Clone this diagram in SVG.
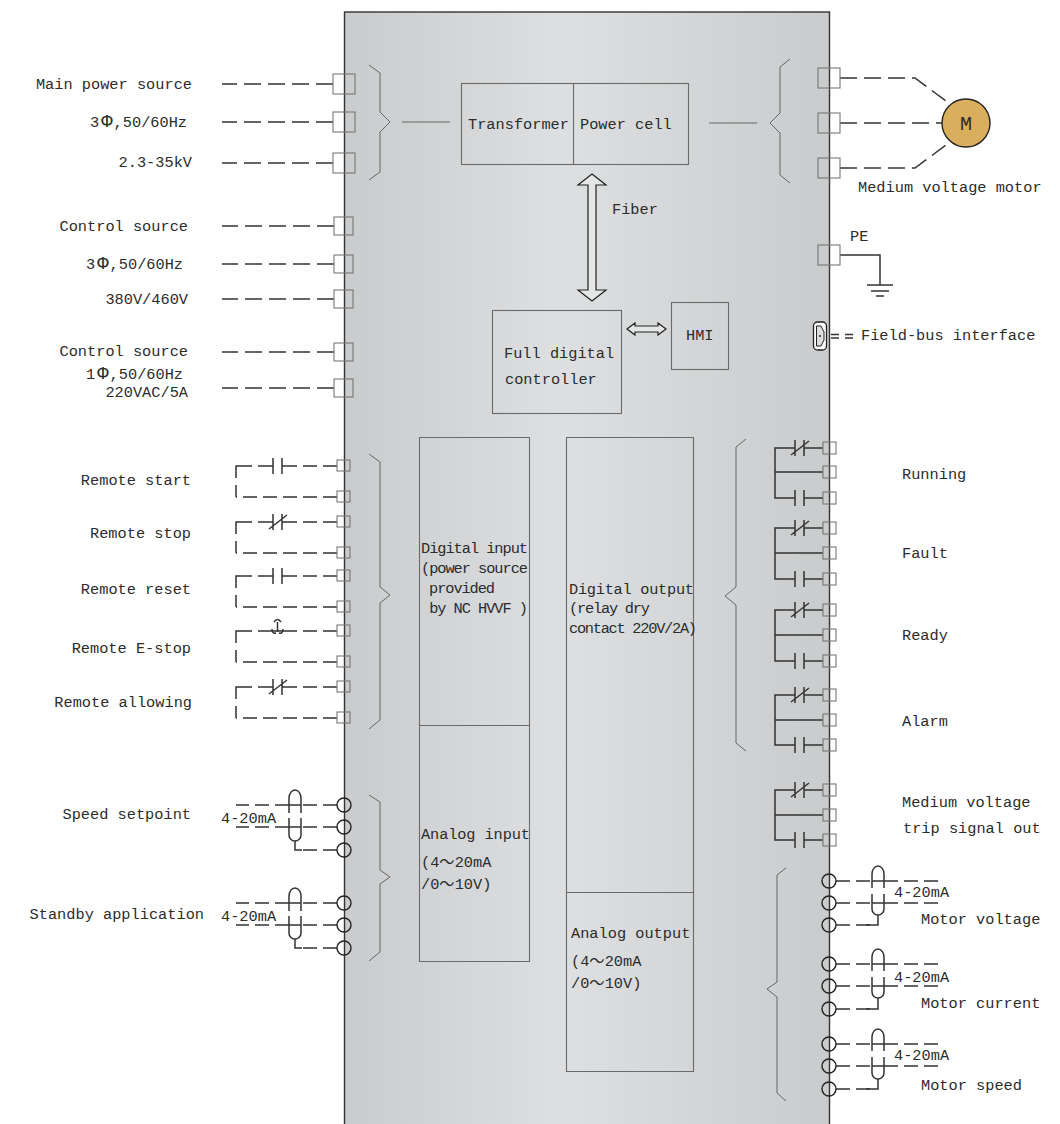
<svg xmlns="http://www.w3.org/2000/svg" width="1060" height="1124" viewBox="0 0 1060 1124">
<style>
text{font-family:"Liberation Mono","Noto Sans CJK SC","DejaVu Sans Mono",monospace;font-size:15.3px;fill:#2c2c2c}
.m{text-anchor:middle}.e{text-anchor:end}
.phi{font-size:19px}
.box{fill:none;stroke:#6a6a6a;stroke-width:1.1}
.term{fill:none;stroke:#777;stroke-width:1.1}
.brace{fill:none;stroke:#666;stroke-width:1}
.dash{fill:none;stroke:#333;stroke-width:1.5;stroke-dasharray:17 7}
.dash2{fill:none;stroke:#333;stroke-width:1.5;stroke-dasharray:14 6}
.wire{fill:none;stroke:#333;stroke-width:1.5}
.circ{fill:none;stroke:#222;stroke-width:1.4}
</style>
<defs>
<linearGradient id="panel" x1="0" x2="1" y1="0" y2="0">
<stop offset="0" stop-color="#cacbcc"/><stop offset="0.45" stop-color="#dddfe0"/><stop offset="1" stop-color="#c9cbcc"/>
</linearGradient>
<path id="no" class="wire" d="M-3 -8V8M6 -8V8"/>
<path id="nc" class="wire" d="M-3 -8V8M6 -8V8M-7 7L11 -7"/>
</defs>

<g id="cabinet"><rect x="344.5" y="12" width="485" height="1120" fill="url(#panel)" stroke="#333" stroke-width="1.4"/></g>

<g id="connectors">
<path class="dash" d="M333 84H222M333 122H222M333 163H222"/>
<path class="dash" d="M334 226H222M334 264H222M334 299H222M334 352H222M334 388H222"/>
<path class="dash" d="M840 78H915L950 104"/>
<path class="dash" d="M840 123H942"/>
<path class="dash" d="M840 168H915L950 142"/>
<path class="wire" d="M840 255H880V285M867 285H893M871 291H889M876 296H884"/>
<path class="wire" d="M831 334.5H839M845 334.5H853M831 338H839M845 338H853"/>
<path class="brace" d="M402 122H450M709 123H757"/>
<g id="remote-wiring">
<path class="dash2" d="M337 466H296M337 497H236M337 522H296M337 553H236M337 576H296M337 607H236M337 631H296M337 662H236M337 687H296M337 718H236"/>
<path class="wire" d="M282 466H296M273 466H258M252 466H236V478M236 485V497"/>
<path class="wire" d="M282 522H296M273 522H258M252 522H236V534M236 541V553"/>
<path class="wire" d="M282 576H296M273 576H258M252 576H236V588M236 595V607"/>
<path class="wire" d="M258 631H296M252 631H236V643M236 650V662"/>
<path class="wire" d="M282 687H296M273 687H258M252 687H236V699M236 706V718"/>
</g>
<g id="analog-in-wiring">
<path class="dash2" d="M337 805H301M289 805H236M337 827H301M289 827H236M337 850H300M337 903H301M289 903H236M337 925H301M289 925H236M337 948H300"/>
<path class="wire" d="M289 805H301M289 827H301M289 903H301M289 925H301M295 841V850H302M295 939V948H302"/>
</g>
<g id="analog-out-wiring">
<path class="dash2" d="M836 881H872M884 881H938M836 903H872M884 903H938M836 925H872M836 964H872M884 964H938M836 986H872M884 986H938M836 1009H872M836 1044H872M884 1044H938M836 1066H872M884 1066H938M836 1089H872"/>
<path class="wire" d="M872 881H884M872 903H884M872 964H884M872 986H884M872 1044H884M872 1066H884M878 915V925H866M878 998V1009H866M878 1079V1089H866"/>
</g>
<g id="relay-wiring">
<path class="wire" d="M823 448H804M795 448H775V498H795M804 498H823M775 472H823"/>
<path class="wire" d="M823 528H804M795 528H775V579H795M804 579H823M775 553H823"/>
<path class="wire" d="M823 610H804M795 610H775V661H795M804 661H823M775 635H823"/>
<path class="wire" d="M823 695H804M795 695H775V745H795M804 745H823M775 720H823"/>
<path class="wire" d="M823 790H804M795 790H775V840H795M804 840H823M775 815H823"/>
</g>
</g>

<g id="contacts">
<use href="#no" x="276" y="466"/>
<use href="#nc" x="276" y="522"/>
<use href="#no" x="276" y="576"/>
<use href="#nc" x="276" y="687"/>
<path class="wire" d="M277.5 622V632M274 622Q277.5 617 281 622M272 629Q272 634 276 633M283 629Q283 634 279 633"/>
<use href="#nc" x="798" y="448"/><use href="#no" x="798" y="498"/>
<use href="#nc" x="798" y="528"/><use href="#no" x="798" y="579"/>
<use href="#nc" x="798" y="610"/><use href="#no" x="798" y="661"/>
<use href="#nc" x="798" y="695"/><use href="#no" x="798" y="745"/>
<use href="#nc" x="798" y="790"/><use href="#no" x="798" y="840"/>
</g>

<g id="shields">
<path class="wire" d="M289 813V798A6 8 0 0 1 301 798V813M289 818V835A6 6 0 0 0 301 835V818"/>
<path class="wire" d="M289 911V896A6 8 0 0 1 301 896V911M289 916V933A6 6 0 0 0 301 933V916"/>
<path class="wire" d="M872 888V874A6 8 0 0 1 884 874V888M872 894V909A6 6 0 0 0 884 909V894"/>
<path class="wire" d="M872 971V957A6 8 0 0 1 884 957V971M872 977V992A6 6 0 0 0 884 992V977"/>
<path class="wire" d="M872 1051V1037A6 8 0 0 1 884 1037V1051M872 1057V1073A6 6 0 0 0 884 1073V1057"/>
</g>

<g id="braces">
<path class="brace" d="M369 65L380 73V112L390 122L380 132V172L369 180"/>
<path class="brace" d="M790 59L780 67V113L770 123L780 133V175L790 183"/>
<path class="brace" d="M369 454L380 462V587L390 595L380 603V720L369 729"/>
<path class="brace" d="M369 795L380 802V870L390 877L380 884V952L369 961"/>
<path class="brace" d="M746 439L736 447V587L725 596L736 605V743L746 751"/>
<path class="brace" d="M786 868L777 875V982L767 989L777 997V1093L786 1101"/>
</g>

<g id="terminals">
<rect class="term" x="333" y="74" width="22" height="20"/><rect class="term" x="333" y="112" width="22" height="20"/><rect class="term" x="333" y="153" width="22" height="20"/>
<rect class="term" x="334" y="217" width="19" height="18"/><rect class="term" x="334" y="255" width="19" height="18"/><rect class="term" x="334" y="290" width="19" height="18"/><rect class="term" x="334" y="343" width="19" height="18"/><rect class="term" x="334" y="379" width="19" height="18"/>
<rect class="term" x="818" y="68" width="22" height="20"/><rect class="term" x="818" y="113" width="22" height="20"/><rect class="term" x="818" y="158" width="22" height="20"/><rect class="term" x="818" y="245" width="22" height="20"/>
<g id="di-terminals">
<rect class="term" x="337" y="460" width="13" height="11"/><rect class="term" x="337" y="491" width="13" height="11"/><rect class="term" x="337" y="516" width="13" height="11"/><rect class="term" x="337" y="547" width="13" height="11"/><rect class="term" x="337" y="570" width="13" height="11"/><rect class="term" x="337" y="601" width="13" height="11"/><rect class="term" x="337" y="625" width="13" height="11"/><rect class="term" x="337" y="656" width="13" height="11"/><rect class="term" x="337" y="681" width="13" height="11"/><rect class="term" x="337" y="712" width="13" height="11"/>
</g>
<g id="do-terminals">
<rect class="term" x="823" y="442" width="13" height="12"/><rect class="term" x="823" y="466" width="13" height="12"/><rect class="term" x="823" y="492" width="13" height="12"/>
<rect class="term" x="823" y="522" width="13" height="12"/><rect class="term" x="823" y="547" width="13" height="12"/><rect class="term" x="823" y="573" width="13" height="12"/>
<rect class="term" x="823" y="604" width="13" height="12"/><rect class="term" x="823" y="629" width="13" height="12"/><rect class="term" x="823" y="655" width="13" height="12"/>
<rect class="term" x="823" y="689" width="13" height="12"/><rect class="term" x="823" y="714" width="13" height="12"/><rect class="term" x="823" y="739" width="13" height="12"/>
<rect class="term" x="823" y="784" width="13" height="12"/><rect class="term" x="823" y="809" width="13" height="12"/><rect class="term" x="823" y="834" width="13" height="12"/>
</g>
<g id="ai-terminals">
<circle class="circ" cx="344" cy="805" r="7"/><circle class="circ" cx="344" cy="827" r="7"/><circle class="circ" cx="344" cy="850" r="7"/><circle class="circ" cx="344" cy="903" r="7"/><circle class="circ" cx="344" cy="925" r="7"/><circle class="circ" cx="344" cy="948" r="7"/>
</g>
<g id="ao-terminals">
<circle class="circ" cx="829" cy="881" r="7"/><circle class="circ" cx="829" cy="903" r="7"/><circle class="circ" cx="829" cy="925" r="7"/><circle class="circ" cx="829" cy="964" r="7"/><circle class="circ" cx="829" cy="986" r="7"/><circle class="circ" cx="829" cy="1009" r="7"/><circle class="circ" cx="829" cy="1044" r="7"/><circle class="circ" cx="829" cy="1066" r="7"/><circle class="circ" cx="829" cy="1089" r="7"/>
</g>
</g>

<g id="motor"><circle cx="966" cy="123" r="24" fill="#d9ae5d" stroke="#222" stroke-width="1.4"/><text x="966" y="130" class="m" style="font-size:20px">M</text></g>
<g id="fieldbus-port"><rect x="813.5" y="322" width="13" height="28" rx="4" fill="#fff" stroke="#222" stroke-width="1.3"/><path d="M816.5 326H821L824 332V340L821 346H816.5Z" fill="#ddd" stroke="#222"/><circle cx="820" cy="336" r="1" fill="#222"/></g>

<g id="power-block"><rect class="box" x="461.5" y="83.5" width="227" height="81"/><path class="box" d="M573.5 83.5V164.5"/><text x="468" y="129">Transformer</text><text x="580" y="129">Power cell</text></g>
<g id="controller"><rect class="box" x="492.5" y="310.5" width="129" height="103"/><text x="504" y="358">Full digital</text><text x="505" y="384">controller</text></g>
<g id="hmi"><rect class="box" x="671.5" y="302.5" width="57" height="67"/><text x="686" y="340">HMI</text></g>
<g id="fiber-arrow"><path d="M592 174L606 185H596V290H606L592 301L578 290H588V185H578Z" fill="#e5e6e6" stroke="#222" stroke-width="1.2"/></g>
<g id="hmi-arrow"><path d="M627 329L635 323V326H658V323L666 329L658 335V332H635V335Z" fill="#e5e6e6" stroke="#222" stroke-width="1.2"/></g>
<g id="digital-input"><path class="box" d="M419.5 437.5H529.5V725.5H419.5Z"/><text x="421" y="553" textLength="107">Digital input</text><text x="421" y="573" textLength="107">(power source</text><text x="421" y="593" xml:space="preserve" textLength="74"> provided</text><text x="421" y="613" xml:space="preserve" textLength="107"> by NC HVVF )</text></g>
<g id="analog-input"><path class="box" d="M419.5 725.5H529.5V961.5H419.5Z"/><text x="421" y="839" textLength="109">Analog input</text><text x="421" y="867">(4～20mA</text><text x="421" y="889">/0～10V)</text></g>
<g id="digital-output"><path class="box" d="M566.5 437.5H693.5V892.5H566.5Z"/><text x="569" y="594" textLength="125">Digital output</text><text x="569" y="613" textLength="81">(relay dry</text><text x="569" y="633" textLength="128">contact 220V/2A)</text></g>
<g id="analog-output"><path class="box" d="M566.5 892.5H693.5V1071.5H566.5Z"/><text x="571" y="938">Analog output</text><text x="571" y="966">(4～20mA</text><text x="571" y="988">/0～10V)</text></g>

<g id="labels-left">
<text x="192" y="89" class="e">Main power source</text>
<text x="90" y="127">3<tspan class="phi" dx="2">Φ</tspan><tspan dx="1">,50/60Hz</tspan></text>
<text x="192" y="167" class="e">2.3-35kV</text>
<text x="188" y="231" class="e">Control source</text>
<text x="86" y="269">3<tspan class="phi" dx="2">Φ</tspan><tspan dx="1">,50/60Hz</tspan></text>
<text x="188" y="304" class="e">380V/460V</text>
<text x="188" y="356" class="e">Control source</text>
<text x="86" y="379">1<tspan class="phi" dx="2">Φ</tspan><tspan dx="1">,50/60Hz</tspan></text>
<text x="188" y="397" class="e">220VAC/5A</text>
<text x="191" y="485" class="e">Remote start</text>
<text x="191" y="538" class="e">Remote stop</text>
<text x="191" y="594" class="e">Remote reset</text>
<text x="191" y="653" class="e">Remote E-stop</text>
<text x="192" y="707" class="e">Remote allowing</text>
<text x="191" y="819" class="e">Speed setpoint</text>
<text x="204" y="919" class="e">Standby application</text>
<text x="221" y="823">4-20mA</text>
<text x="221" y="921">4-20mA</text>
</g>
<g id="labels-right">
<text x="858" y="192">Medium voltage motor</text>
<text x="850" y="241">PE</text>
<text x="861" y="340">Field-bus interface</text>
<text x="612" y="214">Fiber</text>
<text x="902" y="479">Running</text>
<text x="902" y="558">Fault</text>
<text x="902" y="640">Ready</text>
<text x="902" y="726">Alarm</text>
<text x="902" y="807">Medium voltage</text>
<text x="903" y="833">trip signal out</text>
<text x="894" y="897">4-20mA</text>
<text x="921" y="924">Motor voltage</text>
<text x="894" y="982">4-20mA</text>
<text x="921" y="1008">Motor current</text>
<text x="894" y="1060">4-20mA</text>
<text x="921" y="1090">Motor speed</text>
</g>
</svg>
